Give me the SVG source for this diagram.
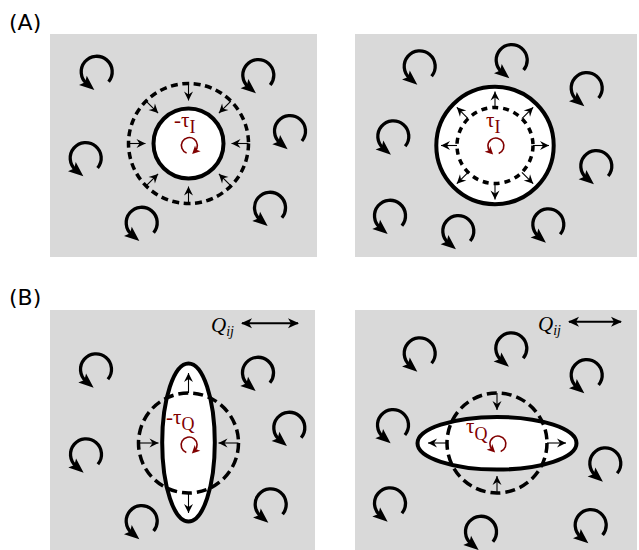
<svg xmlns="http://www.w3.org/2000/svg" xmlns:xlink="http://www.w3.org/1999/xlink" width="639" height="550" viewBox="0 0 639 550">
<style>
.panel{fill:#d9d9d9;stroke:none}
.solid{fill:#fff;stroke:#000;stroke-width:4}
.dashA{fill:none;stroke:#000;stroke-width:3.5;stroke-dasharray:7 4.5}
.dashA2{fill:none;stroke:#000;stroke-width:3.5;stroke-dasharray:6 5}
.dashB{fill:none;stroke:#000;stroke-width:3.5;stroke-dasharray:10 5}
.sw{fill:none;stroke:#000;stroke-width:3.3;marker-end:url(#mb)}
.rs{fill:none;stroke:#800000;stroke-width:1.6;marker-end:url(#mr)}
.ar{stroke:#000;stroke-width:1.1;marker-end:url(#ma)}
.dbl{stroke:#000;stroke-width:2;marker-start:url(#md);marker-end:url(#md)}
.lab{font-family:"DejaVu Sans",sans-serif;font-size:22px;fill:#000}
.tau{font-family:"Liberation Serif",serif;font-size:21px;fill:#800000}
.q{font-family:"Liberation Serif",serif;font-style:italic;font-size:21px;fill:#000}
</style>
<defs>
<marker id="mb" markerUnits="userSpaceOnUse" orient="auto" overflow="visible" markerWidth="1" markerHeight="1"><path d="M10,0 L-5,-6 L-2,0 L-5,6 Z" fill="#000"/></marker>
<marker id="mr" markerUnits="userSpaceOnUse" orient="auto" overflow="visible" markerWidth="1" markerHeight="1"><path d="M4,0 L-4,-4 L-2,0 L-4,4 Z" fill="#800000"/></marker>
<marker id="ma" markerUnits="userSpaceOnUse" orient="auto" overflow="visible" markerWidth="1" markerHeight="1"><path d="M0,0 L-9,-4.5 L-6,0 L-9,4.5 Z" fill="#000"/></marker>
<marker id="md" markerUnits="userSpaceOnUse" orient="auto-start-reverse" overflow="visible" markerWidth="1" markerHeight="1"><path d="M1,0 L-10,-5 L-7,0 L-10,5 Z" fill="#000"/></marker>
<g id="sw"><path class="sw" d="M11.9 10 A15.5 15.5 0 1 0 -10 11.9"/></g>
<g id="rcw"><path class="rs" d="M-2.7 7.5 A8 8 0 1 1 5.7 5.7"/></g>
<g id="rccw"><path class="rs" d="M2.7 7.5 A8 8 0 1 0 -5.7 5.7"/></g>
</defs>

<text class="lab" x="9" y="30">(A)</text>
<text class="lab" x="9" y="305">(B)</text>

<!-- Panel A left -->
<g id="panelA1">
<rect class="panel" x="50" y="34" width="267" height="223"/>
<use href="#sw" x="96.7" y="71.7"/>
<use href="#sw" x="258.3" y="75"/>
<use href="#sw" x="290" y="131"/>
<use href="#sw" x="85.7" y="158"/>
<use href="#sw" x="270" y="207.7"/>
<use href="#sw" x="141.7" y="222.7"/>
<circle class="solid" cx="188.5" cy="143.5" r="35"/>
<circle class="dashA" cx="188.5" cy="143.5" r="60"/>
<g id="arrowsA1">
<line class="ar" x1="248.5" y1="143.5" x2="231.5" y2="143.5"/>
<line class="ar" x1="230.9" y1="185.9" x2="218.9" y2="173.9"/>
<line class="ar" x1="188.5" y1="203.5" x2="188.5" y2="186.5"/>
<line class="ar" x1="146.1" y1="185.9" x2="158.1" y2="173.9"/>
<line class="ar" x1="128.5" y1="143.5" x2="145.5" y2="143.5"/>
<line class="ar" x1="146.1" y1="101.1" x2="158.1" y2="113.1"/>
<line class="ar" x1="188.5" y1="83.5" x2="188.5" y2="100.5"/>
<line class="ar" x1="230.9" y1="101.1" x2="218.9" y2="113.1"/>
</g>
<text class="tau" x="174" y="127">-τ<tspan dy="5.5" font-size="18">I</tspan></text>
<use href="#rcw" x="189.3" y="145.5"/>
</g>

<!-- Panel A right -->
<g id="panelA2">
<rect class="panel" x="355" y="34" width="282" height="223"/>
<use href="#sw" x="419.7" y="66.3"/>
<use href="#sw" x="511.7" y="60"/>
<use href="#sw" x="586.7" y="88"/>
<use href="#sw" x="393.3" y="136.3"/>
<use href="#sw" x="596.3" y="166"/>
<use href="#sw" x="390" y="215.7"/>
<use href="#sw" x="458.3" y="231"/>
<use href="#sw" x="548.3" y="224.3"/>
<circle class="solid" cx="495" cy="145.5" r="58.7"/>
<circle class="dashA2" cx="495" cy="145.5" r="38"/>
<g id="arrowsA2">
<line class="ar" x1="533" y1="145.5" x2="549" y2="145.5"/>
<line class="ar" x1="521.9" y1="172.4" x2="533.2" y2="183.7"/>
<line class="ar" x1="495" y1="183.5" x2="495" y2="199.5"/>
<line class="ar" x1="468.1" y1="172.4" x2="456.8" y2="183.7"/>
<line class="ar" x1="457" y1="145.5" x2="441" y2="145.5"/>
<line class="ar" x1="468.1" y1="118.6" x2="456.8" y2="107.3"/>
<line class="ar" x1="495" y1="107.5" x2="495" y2="91.5"/>
<line class="ar" x1="521.9" y1="118.6" x2="533.2" y2="107.3"/>
</g>
<text class="tau" x="486" y="127">τ<tspan dy="5.5" font-size="18">I</tspan></text>
<use href="#rccw" x="496" y="146"/>
</g>

<!-- Panel B left -->
<g id="panelB1">
<rect class="panel" x="50" y="310" width="265" height="240"/>
<text class="q" x="211" y="332">Q<tspan dy="4" font-size="14">ij</tspan></text>
<line class="dbl" x1="242" y1="323.3" x2="298" y2="323.3"/>
<use href="#sw" x="96" y="369.3"/>
<use href="#sw" x="258" y="372.7"/>
<use href="#sw" x="289.3" y="427.7"/>
<use href="#sw" x="86" y="454.3"/>
<use href="#sw" x="270.7" y="504.3"/>
<use href="#sw" x="141.7" y="521"/>
<ellipse class="solid" cx="188.5" cy="442.5" rx="26.3" ry="79"/>
<circle class="dashB" cx="188.5" cy="443" r="50"/>
<g id="arrowsB1">
<line class="ar" x1="138.5" y1="443" x2="158.5" y2="443"/>
<line class="ar" x1="238.5" y1="443" x2="218.5" y2="443"/>
<line class="ar" x1="188.5" y1="393" x2="188.5" y2="373"/>
<line class="ar" x1="188.5" y1="493" x2="188.5" y2="513"/>
</g>
<text class="tau" x="166" y="424">-τ<tspan dy="5.5" font-size="18">Q</tspan></text>
<use href="#rcw" x="189" y="445"/>
</g>

<!-- Panel B right -->
<g id="panelB2">
<rect class="panel" x="355" y="310" width="282" height="240"/>
<text class="q" x="538" y="331">Q<tspan dy="4" font-size="14">ij</tspan></text>
<line class="dbl" x1="569" y1="321.7" x2="621" y2="321.7"/>
<use href="#sw" x="419.7" y="353.3"/>
<use href="#sw" x="511.3" y="348.3"/>
<use href="#sw" x="586.7" y="375"/>
<use href="#sw" x="393" y="425"/>
<use href="#sw" x="605.3" y="463.3"/>
<use href="#sw" x="390" y="503.3"/>
<use href="#sw" x="481" y="531.7"/>
<use href="#sw" x="590.7" y="525"/>
<ellipse class="solid" cx="497" cy="443.3" rx="79.5" ry="26.3"/>
<circle class="dashB" cx="497" cy="443" r="50"/>
<g id="arrowsB2">
<line class="ar" x1="497" y1="393" x2="497" y2="410"/>
<line class="ar" x1="497" y1="493" x2="497" y2="476"/>
<line class="ar" x1="447" y1="443" x2="428" y2="443"/>
<line class="ar" x1="547" y1="443" x2="566" y2="443"/>
</g>
<text class="tau" x="466" y="433">τ<tspan dy="7" font-size="18">Q</tspan></text>
<use href="#rccw" x="498" y="444"/>
</g>
</svg>
